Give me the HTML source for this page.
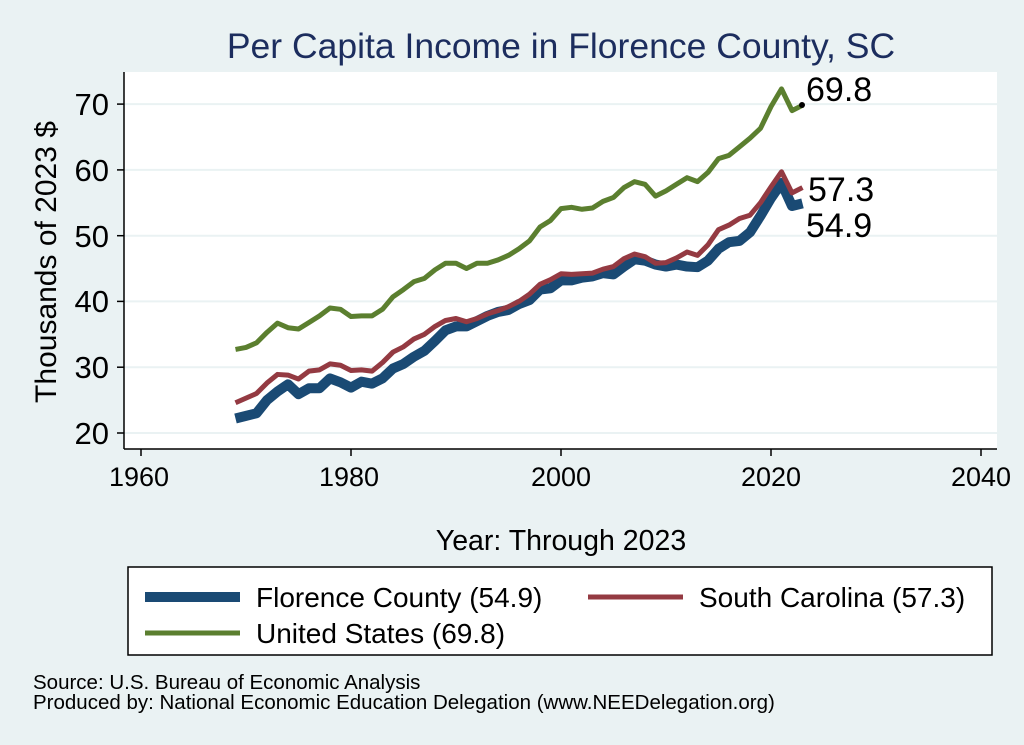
<!DOCTYPE html>
<html><head><meta charset="utf-8"><style>
html,body{margin:0;padding:0;background:#eaf2f3;}
svg{display:block;font-family:"Liberation Sans",Arial,sans-serif;}
</style></head><body>
<svg width="1024" height="745" viewBox="0 0 1024 745">
<rect width="1024" height="745" fill="#eaf2f3"/>
<text x="561" y="58" text-anchor="middle" font-size="35.5" fill="#1c2d5e">Per Capita Income in Florence County, SC</text>
<rect x="124" y="72" width="873" height="377" fill="#fff"/>
<g stroke="#eaf2f3" stroke-width="2">
<line x1="124" x2="997" y1="104.1" y2="104.1"/><line x1="124" x2="997" y1="169.9" y2="169.9"/>
<line x1="124" x2="997" y1="235.7" y2="235.7"/><line x1="124" x2="997" y1="301.4" y2="301.4"/>
<line x1="124" x2="997" y1="367.2" y2="367.2"/><line x1="124" x2="997" y1="433" y2="433"/>
</g>
<g stroke="#000" stroke-width="1.5">
<line x1="124" y1="72" x2="124" y2="449"/><line x1="124" y1="449" x2="997" y2="449"/>
<line x1="117" x2="124" y1="104.1" y2="104.1"/><line x1="117" x2="124" y1="169.9" y2="169.9"/>
<line x1="117" x2="124" y1="235.7" y2="235.7"/><line x1="117" x2="124" y1="301.4" y2="301.4"/>
<line x1="117" x2="124" y1="367.2" y2="367.2"/><line x1="117" x2="124" y1="433" y2="433"/>
<line x1="141" x2="141" y1="449" y2="456"/><line x1="351" x2="351" y1="449" y2="456"/>
<line x1="561" x2="561" y1="449" y2="456"/><line x1="771" x2="771" y1="449" y2="456"/>
<line x1="981" x2="981" y1="449" y2="456"/>
</g>
<g font-size="31" text-anchor="end" fill="#000">
<text x="109" y="115">70</text><text x="109" y="181">60</text><text x="109" y="247">50</text>
<text x="109" y="312">40</text><text x="109" y="378">30</text><text x="109" y="444">20</text>
</g>
<g font-size="27" text-anchor="middle" fill="#000">
<text x="139" y="486">1960</text><text x="349" y="486">1980</text><text x="561" y="486">2000</text>
<text x="771" y="486">2020</text><text x="981" y="486">2040</text>
</g>
<text x="561" y="550" text-anchor="middle" font-size="28.5">Year: Through 2023</text>
<text transform="translate(56,262) rotate(-90)" text-anchor="middle" font-size="30">Thousands of 2023 $</text>
<g transform="matrix(10.5 0 0 -6.58 -20439 564.6)" fill="none" stroke-linejoin="round">
<polyline vector-effect="non-scaling-stroke" stroke="#1a4a74" stroke-width="10" points="1969,22.2 1970,22.6 1971,23.0 1972,25.0 1973,26.3 1974,27.4 1975,25.9 1976,26.8 1977,26.8 1978,28.3 1979,27.7 1980,26.9 1981,27.8 1982,27.5 1983,28.3 1984,29.8 1985,30.5 1986,31.6 1987,32.5 1988,34.0 1989,35.6 1990,36.2 1991,36.2 1992,37.0 1993,37.8 1994,38.4 1995,38.7 1996,39.6 1997,40.2 1998,41.8 1999,42.0 2000,43.2 2001,43.2 2002,43.6 2003,43.8 2004,44.3 2005,44.1 2006,45.3 2007,46.4 2008,46.2 2009,45.6 2010,45.3 2011,45.6 2012,45.3 2013,45.2 2014,46.2 2015,48.0 2016,49.0 2017,49.2 2018,50.5 2019,53.0 2020,55.7 2021,58.0 2022,54.5 2023,54.9"/>
<polyline vector-effect="non-scaling-stroke" stroke="#943a42" stroke-width="5" points="1969,24.6 1970,25.3 1971,26.0 1972,27.6 1973,28.9 1974,28.8 1975,28.2 1976,29.4 1977,29.6 1978,30.5 1979,30.3 1980,29.5 1981,29.6 1982,29.4 1983,30.7 1984,32.3 1985,33.1 1986,34.3 1987,35.0 1988,36.2 1989,37.1 1990,37.4 1991,36.9 1992,37.4 1993,38.1 1994,38.6 1995,39.2 1996,40.0 1997,41.1 1998,42.6 1999,43.3 2000,44.2 2001,44.1 2002,44.2 2003,44.3 2004,44.9 2005,45.3 2006,46.5 2007,47.2 2008,46.8 2009,45.8 2010,45.9 2011,46.6 2012,47.5 2013,47.0 2014,48.6 2015,50.9 2016,51.6 2017,52.6 2018,53.1 2019,55.0 2020,57.4 2021,59.7 2022,56.5 2023,57.3"/>
<polyline vector-effect="non-scaling-stroke" stroke="#5b7f2f" stroke-width="5" points="1969,32.7 1970,33.0 1971,33.7 1972,35.3 1973,36.7 1974,36.0 1975,35.8 1976,36.8 1977,37.8 1978,39.0 1979,38.8 1980,37.7 1981,37.8 1982,37.8 1983,38.8 1984,40.7 1985,41.8 1986,43.0 1987,43.5 1988,44.8 1989,45.8 1990,45.8 1991,45.0 1992,45.8 1993,45.8 1994,46.3 1995,47.0 1996,48.0 1997,49.2 1998,51.3 1999,52.3 2000,54.1 2001,54.3 2002,54.0 2003,54.2 2004,55.2 2005,55.8 2006,57.3 2007,58.2 2008,57.8 2009,56.0 2010,56.8 2011,57.8 2012,58.8 2013,58.2 2014,59.6 2015,61.7 2016,62.2 2017,63.5 2018,64.8 2019,66.3 2020,69.6 2021,72.3 2022,69.0 2023,69.8"/>
</g>
<circle cx="802" cy="105" r="3" fill="#000"/>
<g font-size="34" fill="#000">
<text x="806" y="101">69.8</text>
<text x="808" y="201">57.3</text>
<text x="806" y="237">54.9</text>
</g>
<rect x="128" y="567" width="864" height="88" fill="#fff" stroke="#000" stroke-width="1.5"/>
<line x1="145" x2="240" y1="597" y2="597" stroke="#1a4a74" stroke-width="10"/>
<line x1="588" x2="683" y1="597" y2="597" stroke="#943a42" stroke-width="5"/>
<line x1="145" x2="240" y1="633" y2="633" stroke="#5b7f2f" stroke-width="5"/>
<g font-size="28" fill="#000">
<text x="256" y="607">Florence County (54.9)</text>
<text x="699" y="607">South Carolina (57.3)</text>
<text x="256" y="643">United States (69.8)</text>
</g>
<g font-size="20.5" fill="#000">
<text x="33" y="689">Source: U.S. Bureau of Economic Analysis</text>
<text x="33" y="709">Produced by: National Economic Education Delegation (www.NEEDelegation.org)</text>
</g>
</svg>
</body></html>
